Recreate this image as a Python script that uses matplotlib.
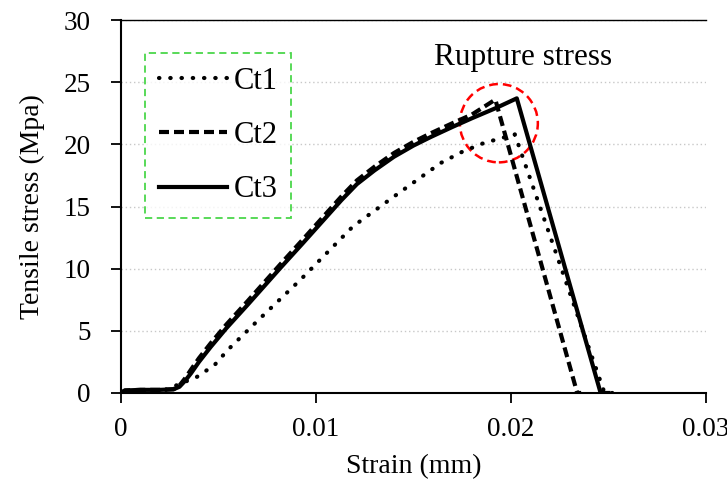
import matplotlib
matplotlib.use("Agg")
import matplotlib.pyplot as plt
from matplotlib.patches import Ellipse

plt.rcParams['font.family'] = ['Liberation Serif', 'DejaVu Serif']

# strain / stress
ct1_x = [0, 0.0010, 0.0022, 0.0029, 0.0039, 0.0048, 0.0055, 0.0070, 0.0092, 0.0119,
         0.0140, 0.0164, 0.0175, 0.0186, 0.0202, 0.0248, 0.0255]
ct1_y = [0, 0.1, 0.2, 0.65, 1.3, 2.25, 3.5, 5.8, 9.1, 13.4,
         15.8, 18.5, 19.4, 20.1, 20.8, 0, 0]

ct2_x = [0, 0.0002, 0.0010, 0.0020, 0.0027, 0.0030, 0.0033, 0.0036, 0.0040, 0.0046,
         0.0054, 0.0065, 0.0082, 0.0093, 0.0105, 0.0113, 0.0121, 0.0130, 0.0140, 0.0150,
         0.0159, 0.0170, 0.0180, 0.0192, 0.0234, 0.0236]
ct2_y = [0, 0.2, 0.25, 0.25, 0.3, 0.6, 1.2, 1.9, 2.8, 4.0,
         5.5, 7.4, 10.4, 12.3, 14.4, 15.8, 17.1, 18.2, 19.3, 20.2,
         20.9, 21.7, 22.4, 23.6, 0, 0]

ct3_x = [0, 0.0002, 0.0010, 0.0020, 0.0027, 0.0030, 0.0033, 0.0036, 0.0040, 0.0046,
         0.0054, 0.0065, 0.0082, 0.0093, 0.0105, 0.0113, 0.0121, 0.0130, 0.0140, 0.0150,
         0.0159, 0.0170, 0.0180, 0.0192, 0.0203, 0.0246, 0.0250]
ct3_y = [0, 0.2, 0.25, 0.25, 0.3, 0.5, 1.0, 1.6, 2.5, 3.7,
         5.2, 7.1, 10.1, 12.0, 14.1, 15.5, 16.8, 17.9, 19.0, 19.9,
         20.6, 21.4, 22.1, 22.9, 23.7, 0, 0]

x_ticks = [0, 0.01, 0.02, 0.03]
x_labels = ["0", "0.01", "0.02", "0.03"]
y_ticks = [0, 5, 10, 15, 20, 25, 30]

fig = plt.figure(figsize=(7.27, 4.86), dpi=100)
ax = fig.add_axes([0.1664, 0.1914, 0.8046, 0.7674])

lw = 3
ax.plot(ct1_x, ct1_y, color="black", lw=lw, linestyle=(0, (0.1, 2.6)),
        dash_capstyle="round", label="Ct1")
ax.plot(ct2_x, ct2_y, color="black", lw=lw, linestyle=(0, (2.4, 1.2)), label="Ct2")
ax.plot(ct3_x, ct3_y, color="black", lw=lw, label="Ct3")

# rupture stress marker
circ = Ellipse((0.01938, 21.7), 0.0040, 6.3, fill=False, edgecolor="red",
               lw=1.8, linestyle=(0, (3.5, 2)))
ax.add_patch(circ)
ax.text(0.0206, 27.0, "Rupture stress", ha="center", va="center", fontsize=22.5)

ax.set_xlim(0, 0.03)
ax.set_ylim(0, 30)
ax.set_xticks(x_ticks)
ax.set_xticklabels(x_labels)
ax.set_yticks(y_ticks)
ax.tick_params(labelsize=19.5, direction="out", length=7, width=1.3)
ax.tick_params(axis="x", pad=10)
ax.tick_params(axis="y", pad=15)

ax.yaxis.grid(True, linestyle=(0, (1, 2)), color="#c8c8c8", lw=1)
ax.set_axisbelow(True)
ax.spines["right"].set_visible(False)
ax.spines["top"].set_linewidth(1)
for s in ["left", "bottom"]:
    ax.spines[s].set_linewidth(1.5)

ax.set_xlabel("Strain (mm)", fontsize=20, labelpad=9)
ax.set_ylabel("Tensile stress (Mpa)", fontsize=20, labelpad=13)

leg = ax.legend(loc="upper left", bbox_to_anchor=(0.041, 0.912), borderaxespad=0,
                fontsize=22, frameon=True, fancybox=False, borderpad=0.45,
                labelspacing=0.83, handlelength=2.25, handletextpad=0.2)
frame = leg.get_frame()
frame.set_edgecolor("#1fcc1f")
frame.set_linestyle((0, (4, 2.5)))
frame.set_linewidth(1.3)

fig.savefig("out.png", dpi=100)
